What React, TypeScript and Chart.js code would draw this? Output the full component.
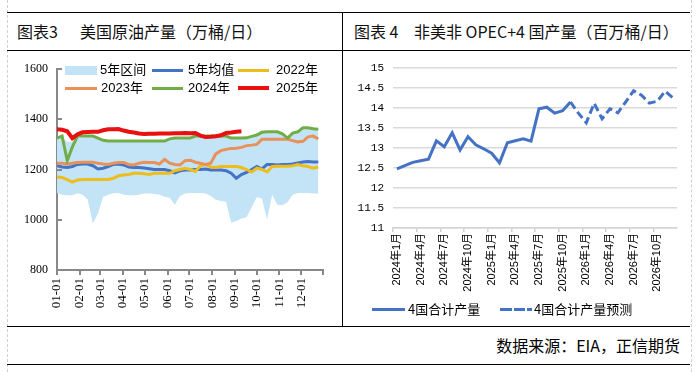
import React, { useEffect, useRef } from 'react';
import { Chart, registerables } from 'chart.js';

Chart.register(...registerables);

// ---------- Left chart: US crude production (10k b/d), weekly ----------
const monthTickDays = [0, 31, 59, 90, 120, 151, 181, 212, 243, 273, 304, 334, 364];
const monthTickLabels = ['01-01', '02-01', '03-01', '04-01', '05-01', '06-01', '07-01', '08-01', '09-01', '10-01', '11-01', '12-01', ''];

const range5yHigh = [
  1322, 1325, 1310, 1310, 1325, 1328, 1330, 1330, 1322, 1315,
  1312, 1312, 1312, 1312, 1312, 1312, 1312, 1312, 1312, 1312,
  1312, 1312, 1320, 1322, 1322, 1322, 1322, 1330, 1330, 1330,
  1330, 1330, 1330, 1330, 1325, 1322, 1322, 1328, 1332, 1336,
  1348, 1348, 1348, 1348, 1338, 1328, 1342, 1348, 1362, 1362,
  1358, 1356,
];
const range5yLow = [
  1105, 1100, 1098, 1098, 1105, 1100, 1080, 985, 1025, 1092,
  1100, 1105, 1106, 1100, 1098, 1098, 1100, 1104, 1104, 1102,
  1100, 1092, 1088, 1060, 1095, 1104, 1106, 1106, 1106, 1104,
  1095, 1080, 1075, 1072, 988, 995, 1005, 1010, 1050, 1090,
  1085, 1000, 1100, 1060, 1058, 1070, 1100, 1106, 1106, 1106,
  1104, 1104,
];
const avg5y = [
  1215, 1210, 1208, 1212, 1220, 1222, 1222, 1215, 1202, 1205,
  1212, 1220, 1222, 1218, 1210, 1208, 1208, 1206, 1203, 1200,
  1200, 1200, 1195, 1187, 1195, 1198, 1198, 1200, 1200, 1202,
  1198, 1198, 1198, 1195, 1185, 1165, 1180, 1188, 1200, 1212,
  1202, 1220, 1220, 1218, 1220, 1220, 1222, 1226, 1230, 1232,
  1230, 1230,
];
const y2022 = [
  1170, 1168, 1160, 1150, 1158, 1160, 1160, 1160, 1160, 1160,
  1160, 1165, 1175, 1178, 1180, 1185, 1185, 1183, 1180, 1185,
  1185, 1185, 1185, 1195, 1200, 1205, 1200, 1192, 1215, 1220,
  1210, 1208, 1212, 1212, 1212, 1212, 1208, 1200, 1190, 1205,
  1200, 1190, 1212, 1213, 1213, 1213, 1215, 1220, 1215, 1212,
  1205, 1210,
];
const y2023 = [
  1225, 1225, 1222, 1225, 1228, 1229, 1229, 1229, 1225, 1222,
  1220, 1225, 1228, 1228, 1220, 1218, 1225, 1229, 1228, 1228,
  1222, 1240, 1225, 1220, 1218, 1235, 1237, 1229, 1225, 1220,
  1225, 1262, 1275, 1280, 1284, 1285, 1288, 1295, 1297, 1300,
  1320, 1320, 1320, 1320, 1320, 1320, 1315, 1310, 1312, 1330,
  1333, 1322,
];
const y2024 = [
  1325, 1333, 1235, 1290, 1333, 1333, 1333, 1333, 1325, 1316,
  1313, 1313, 1313, 1313, 1313, 1313, 1313, 1313, 1313, 1313,
  1313, 1313, 1322, 1325, 1325, 1325, 1325, 1333, 1333, 1333,
  1333, 1333, 1333, 1333, 1325, 1325, 1325, 1326, 1332, 1337,
  1348, 1350, 1350, 1350, 1342, 1325, 1345, 1350, 1366, 1366,
  1362, 1360,
];
const y2025 = [
  1360, 1358, 1352, 1325, 1340, 1348, 1349, 1350, 1350, 1356,
  1360, 1360, 1361, 1355, 1350, 1347, 1343, 1341, 1342, 1342,
  1343, 1343, 1343, 1344, 1344, 1345, 1344, 1345, 1335, 1329,
  1330, 1332, 1336, 1345, 1347, 1350, 1352,
];

// ---------- Right chart: non-US non-OPEC+ 4 countries (mb/d), monthly ----------
const nonOpecMonths = [
  '2024年1月', '2024年2月', '2024年3月', '2024年4月', '2024年5月', '2024年6月',
  '2024年7月', '2024年8月', '2024年9月', '2024年10月', '2024年11月', '2024年12月',
  '2025年1月', '2025年2月', '2025年3月', '2025年4月', '2025年5月', '2025年6月',
  '2025年7月', '2025年8月', '2025年9月', '2025年10月', '2025年11月', '2025年12月',
  '2026年1月', '2026年2月', '2026年3月', '2026年4月', '2026年5月', '2026年6月',
  '2026年7月', '2026年8月', '2026年9月', '2026年10月', '2026年11月', '2026年12月',
];
const nonOpecActual = [
  12.48, 12.56, 12.64, 12.68, 12.72, 13.18, 13.03, 13.38, 12.95, 13.28,
  13.08, 12.98, 12.87, 12.63, 13.13, 13.18, 13.23, 13.17, 13.98, 14.02,
  13.87, 13.93, 14.15,
];
const forecastStart = 22;
const nonOpecForecast = [
  14.15, 13.87, 13.63, 14.12, 13.73, 13.98, 13.88, 14.15, 14.43, 14.32,
  14.12, 14.17, 14.42, 14.25,
];

const SERIF = "'Liberation Serif', 'Times New Roman', serif";
const CJK = "'Noto Sans CJK SC', sans-serif";
const MIX = "'Liberation Sans', 'Noto Sans CJK SC', sans-serif";
const MONO = "'Liberation Mono', 'Noto Sans CJK SC', monospace";

const BLUE = '#4472C4';
const GOLD = '#EDBD1E';
const ORANGE = '#E8915A';
const GREEN = '#70AD47';
const RED = '#E81010';
const RANGE = '#C3E4F7';

const toWeekly = (arr: number[]) => arr.map((v, i) => ({ x: i * 7, y: v }));

const innerYTicks = {
  id: 'innerYTicks',
  afterDatasetsDraw(chart: any) {
    const ys = chart.scales.y;
    const ctx = chart.ctx;
    const left = chart.chartArea.left;
    ctx.save();
    ctx.strokeStyle = '#888';
    ctx.lineWidth = 2;
    ys.ticks.forEach((t: any) => {
      const py = Math.round(ys.getPixelForValue(t.value));
      ctx.beginPath();
      ctx.moveTo(left, py);
      ctx.lineTo(left + 5, py);
      ctx.stroke();
    });
    ctx.restore();
  },
};

const abs = (l: number, t: number, extra: React.CSSProperties = {}): React.CSSProperties => ({
  position: 'absolute',
  left: l,
  top: t,
  ...extra,
});

export default function App() {
  const leftRef = useRef<HTMLCanvasElement>(null);
  const rightRef = useRef<HTMLCanvasElement>(null);

  useEffect(() => {
    const lineDs = (label: string, data: number[], color: string, width: number, order: number) => ({
      label,
      data: toWeekly(data),
      borderColor: color,
      backgroundColor: color,
      borderWidth: width,
      pointRadius: 0,
      tension: 0,
      fill: false,
      order,
    });

    const c1 = new Chart(leftRef.current as HTMLCanvasElement, {
      type: 'line',
      data: {
        datasets: [
          lineDs('2025年', y2025, RED, 4, 0),
          lineDs('2024年', y2024, GREEN, 3, 1),
          lineDs('2023年', y2023, ORANGE, 3, 2),
          lineDs('2022年', y2022, GOLD, 3, 3),
          lineDs('5年均值', avg5y, BLUE, 3, 4),
          {
            label: '5年区间',
            data: toWeekly(range5yHigh),
            borderWidth: 0,
            borderColor: 'rgba(0,0,0,0)',
            backgroundColor: RANGE,
            pointRadius: 0,
            tension: 0,
            fill: '+1',
            order: 10,
          },
          {
            label: 'low',
            data: toWeekly(range5yLow),
            borderWidth: 0,
            borderColor: 'rgba(0,0,0,0)',
            backgroundColor: RANGE,
            pointRadius: 0,
            tension: 0,
            fill: false,
            order: 11,
          },
        ] as any,
      },
      options: {
        animation: false,
        responsive: false,
        maintainAspectRatio: false,
        layout: { padding: { top: 18, right: 9, left: 0, bottom: 0 } },
        plugins: { legend: { display: false }, tooltip: { enabled: false } },
        scales: {
          x: {
            type: 'linear',
            min: 0,
            max: 364,
            afterBuildTicks: (s: any) => {
              s.ticks = monthTickDays.map((v) => ({ value: v }));
            },
            afterFit: (s: any) => {
              s.height = 55;
            },
            ticks: {
              autoSkip: false,
              minRotation: 90,
              maxRotation: 90,
              padding: 3,
              color: '#000',
              font: { family: SERIF, size: 13 },
              callback: (_v: any, i: number) => monthTickLabels[i],
            },
            grid: { display: true, drawOnChartArea: false, drawTicks: true, tickLength: 5, color: '#888', lineWidth: 2 },
            border: { display: true, color: '#888', width: 2 },
          },
          y: {
            min: 800,
            max: 1600,
            afterFit: (s: any) => {
              s.width = 49;
            },
            ticks: {
              stepSize: 200,
              padding: 9,
              color: '#000',
              font: { family: SERIF, size: 12 },
              callback: (v: any) => String(v),
            },
            grid: { display: false, drawTicks: false },
            border: { display: true, color: '#888', width: 2 },
          },
        },
      } as any,
      plugins: [innerYTicks],
    });

    const actualFull = nonOpecMonths.map((_, i) => (i < nonOpecActual.length ? nonOpecActual[i] : null));
    const forecastFull = nonOpecMonths.map((_, i) => (i >= forecastStart ? nonOpecForecast[i - forecastStart] : null));

    const c2 = new Chart(rightRef.current as HTMLCanvasElement, {
      type: 'line',
      data: {
        labels: nonOpecMonths,
        datasets: [
          {
            label: '4国合计产量',
            data: actualFull,
            borderColor: BLUE,
            backgroundColor: BLUE,
            borderWidth: 3,
            pointRadius: 0,
            tension: 0,
          },
          {
            label: '4国合计产量预测',
            data: forecastFull,
            borderColor: BLUE,
            backgroundColor: BLUE,
            borderWidth: 3,
            borderDash: [8, 4],
            pointRadius: 0,
            tension: 0,
          },
        ],
      },
      options: {
        animation: false,
        responsive: false,
        maintainAspectRatio: false,
        layout: { padding: { top: 17, right: 13, left: 0, bottom: 0 } },
        plugins: { legend: { display: false }, tooltip: { enabled: false } },
        scales: {
          x: {
            type: 'category',
            offset: true,
            afterFit: (s: any) => {
              s.height = 97;
            },
            ticks: {
              autoSkip: false,
              minRotation: 90,
              maxRotation: 90,
              padding: 1,
              color: '#000',
              font: { family: MIX, size: 11 },
              callback: (_v: any, i: number) => (i % 3 === 0 ? nonOpecMonths[i] : ''),
            },
            grid: {
              display: true,
              offset: true,
              drawOnChartArea: false,
              drawTicks: true,
              tickLength: 4,
              lineWidth: 1.5,
              color: (ctx: any) => (ctx.index % 3 === 0 ? '#cfcfcf' : 'rgba(0,0,0,0)'),
            },
            border: { display: true, color: '#d4d4d4', width: 1.5 },
          },
          y: {
            min: 11,
            max: 15,
            afterFit: (s: any) => {
              s.width = 50;
            },
            ticks: {
              stepSize: 0.5,
              padding: 9,
              color: '#000',
              font: { family: MONO, size: 11 },
              callback: (v: any) => String(v),
            },
            grid: { display: true, drawTicks: false, color: '#d9d9d9', lineWidth: 1.5 },
            border: { display: false },
          },
        },
      } as any,
    });

    return () => {
      c1.destroy();
      c2.destroy();
    };
  }, []);

  const hLine = (x1: number, x2: number, y: number) => (
    <div style={abs(x1, y, { width: x2 - x1, height: 1, background: '#000' })} />
  );

  const legendText: React.CSSProperties = { fontFamily: MIX, fontSize: 13, lineHeight: '16px', color: '#000', whiteSpace: 'pre' };
  const titleText: React.CSSProperties = { fontFamily: CJK, fontSize: 16, lineHeight: '16px', color: '#111', whiteSpace: 'pre' };

  return (
    <div style={{ position: 'fixed', left: 0, top: 0, width: 699, height: 372, background: '#fff', overflow: 'hidden' }}>
      {/* faint outer dotted borders */}
      <div style={abs(7, 0, { width: 0, height: 372, borderLeft: '1px dashed #cfcfcf' })} />
      <div style={abs(691, 0, { width: 0, height: 372, borderLeft: '1px dashed #cfcfcf' })} />

      {/* table frame */}
      {hLine(7, 690, 12)}
      {hLine(7, 690, 50)}
      {hLine(7, 690, 326)}
      {hLine(7, 690, 364)}
      <div style={abs(342, 12, { width: 1, height: 314, background: '#000' })} />

      {/* titles */}
      <span style={abs(17, 23, titleText)}>图表3</span>
      <span style={abs(80, 23, titleText)}>美国原油产量（万桶/日）</span>
      <span style={abs(354, 23, titleText)}>图表 4</span>
      <span style={abs(414, 23, titleText)}>非美非 OPEC+4 国产量（百万桶/日）</span>

      {/* charts */}
      <canvas ref={leftRef} width={334} height={274} style={abs(8, 51, { width: 334, height: 274 })} />
      <canvas ref={rightRef} width={347} height={274} style={abs(343, 51, { width: 347, height: 274 })} />

      {/* left legend */}
      <div style={abs(65, 66, { width: 32, height: 9, background: RANGE })} />
      <span style={abs(100, 62, legendText)}>5年区间</span>
      <div style={abs(152, 69, { width: 31, height: 3, background: BLUE })} />
      <span style={abs(188, 62, legendText)}>5年均值</span>
      <div style={abs(238, 69, { width: 31, height: 3, background: GOLD })} />
      <span style={abs(276, 62, legendText)}>2022年</span>

      <div style={abs(65, 87, { width: 32, height: 3, background: ORANGE })} />
      <span style={abs(101, 80, legendText)}>2023年</span>
      <div style={abs(152, 87, { width: 31, height: 3, background: GREEN })} />
      <span style={abs(188, 80, legendText)}>2024年</span>
      <div style={abs(238, 86, { width: 31, height: 4, background: RED })} />
      <span style={abs(276, 80, legendText)}>2025年</span>

      {/* right legend */}
      <div style={abs(372, 308, { width: 33, height: 3, background: BLUE })} />
      <span style={abs(408, 301, { fontFamily: CJK, fontSize: 13, lineHeight: '16px', color: '#000', whiteSpace: 'pre' })}>4国合计产量</span>
      <div style={abs(500, 308, { width: 12, height: 3, background: BLUE })} />
      <div style={abs(514, 308, { width: 11, height: 3, background: BLUE })} />
      <div style={abs(527, 308, { width: 5, height: 3, background: BLUE })} />
      <span style={abs(534, 301, { fontFamily: CJK, fontSize: 13, lineHeight: '16px', color: '#000', whiteSpace: 'pre' })}>4国合计产量预测</span>

      {/* source */}
      <span style={abs(0, 337, { width: 680, textAlign: 'right', fontFamily: CJK, fontSize: 16, lineHeight: '16px', color: '#000', whiteSpace: 'pre' })}>数据来源：EIA，正信期货</span>
    </div>
  );
}
